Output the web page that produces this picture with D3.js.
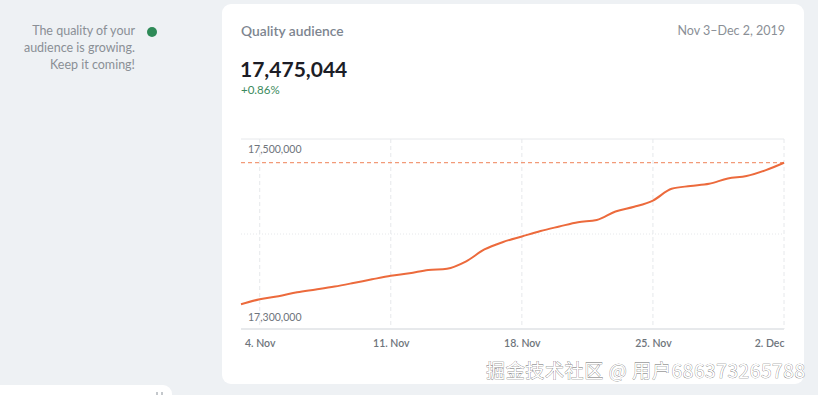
<!DOCTYPE html>
<html>
<head>
<meta charset="utf-8">
<script src="https://cdn.jsdelivr.net/npm/d3@7"></script>
<style>
  body { margin: 0; background: #eef1f4; overflow: hidden; }
  svg { display: block; font-family: Lato, "Open Sans", sans-serif; }
</style>
</head>
<body>
<script>
var width = 818, height = 395;

// data
var startDate = new Date(2019, 10, 3);
var audience = [17326000, 17331300, 17334500, 17338700, 17341600, 17344700, 17348400,
  17352300, 17356000, 17358600, 17362100, 17363500, 17371000, 17383700, 17391600,
  17397400, 17403200, 17407900, 17412400, 17414700, 17423700, 17428600, 17435200,
  17447600, 17450500, 17452800, 17458400, 17461000, 17467000, 17475044];
var yTicks = [17300000, 17400000, 17500000];
var yLabelTicks = [17300000, 17500000];
var xTickDates = [new Date(2019, 10, 4), new Date(2019, 10, 11), new Date(2019, 10, 18),
  new Date(2019, 10, 25), new Date(2019, 11, 2)];
var currentValue = 17475044;
var changeText = "+0.86%";
var periodText = "Nov 3\u2013Dec 2, 2019";
var noteLines = ["The quality of your", "audience is growing.", "Keep it coming!"];

var data = audience.map(function(v, i) {
  return { date: d3.timeDay.offset(startDate, i), value: v };
});

var svg = d3.select("body").append("svg")
  .attr("width", width)
  .attr("height", height);

// cards
svg.append("rect").attr("x", 222).attr("y", 4).attr("width", 582).attr("height", 380)
  .attr("rx", 9).attr("fill", "#fff");
svg.append("rect").attr("x", -10).attr("y", 385).attr("width", 182).attr("height", 30)
  .attr("rx", 9).attr("fill", "#fff");
svg.append("g").selectAll("rect").data([156, 161]).enter().append("rect")
  .attr("x", function(d) { return d; }).attr("y", 392).attr("width", 2).attr("height", 3)
  .attr("fill", "#c4c8cc");

// left note
svg.append("g").selectAll("text").data(noteLines).enter().append("text")
  .attr("x", 135).attr("y", function(d, i) { return 35 + i * 17; })
  .attr("text-anchor", "end").attr("font-size", 12.5).attr("fill", "#8a8f96")
  .text(function(d) { return d; });
svg.append("circle").attr("cx", 152).attr("cy", 32).attr("r", 5).attr("fill", "#2e8a57");

// header
svg.append("text").attr("x", 241).attr("y", 36).attr("font-size", 13.8).attr("font-weight", 600)
  .attr("fill", "#7d8590").text("Quality audience");
svg.append("text").attr("x", 785).attr("y", 35).attr("text-anchor", "end").attr("font-size", 12.5)
  .attr("fill", "#8a8f96").text(periodText);
svg.append("text").attr("x", 240).attr("y", 77).attr("font-size", 21).attr("font-weight", 700)
  .attr("fill", "#1c1d26").text(d3.format(",")(currentValue));
svg.append("text").attr("x", 241).attr("y", 94).attr("font-size", 11.5)
  .attr("fill", "#3b8a5d").text(changeText);

// chart
var x = d3.scaleTime().domain([startDate, data[data.length - 1].date]).range([241, 784]);
var y = d3.scaleLinear().domain([17300000, 17500000]).range([329, 139]);

var grid = svg.append("g");
grid.selectAll("line.h").data(yTicks).enter().append("line")
  .attr("x1", 241).attr("x2", 784)
  .attr("y1", function(d) { return y(d); }).attr("y2", function(d) { return y(d); })
  .attr("stroke", function(d, i) { return i == 0 ? "#cfd3d8" : "#e6e8eb"; })
  .attr("stroke-dasharray", function(d, i) { return i == 1 ? "1,2" : null; });
grid.selectAll("line.v").data(xTickDates).enter().append("line")
  .attr("x1", function(d) { return x(d); }).attr("x2", function(d) { return x(d); })
  .attr("y1", 139).attr("y2", 329)
  .attr("stroke", "#e6e8eb").attr("stroke-dasharray", "4,3");

svg.append("g").selectAll("text").data(yLabelTicks).enter().append("text")
  .attr("x", 248).attr("y", function(d, i) { return i == 0 ? y(d) - 8 : y(d) + 14; })
  .attr("font-size", 10.5).attr("fill", "#6e747b")
  .text(d3.format(","));

var xAxis = svg.append("g").attr("transform", "translate(0,329)")
  .call(d3.axisBottom(x).tickValues(xTickDates).tickSize(0).tickPadding(11)
    .tickFormat(function(d) { return d3.timeFormat("%-d. %b")(d); }));
xAxis.select(".domain").remove();
xAxis.selectAll("text").attr("font-size", 10.5).attr("font-weight", 600).attr("fill", "#6e747b")
  .attr("font-family", "Lato, sans-serif")
  .attr("text-anchor", function(d, i) { return i == xTickDates.length - 1 ? "end" : "middle"; });

// target line
svg.append("line").attr("x1", 241).attr("x2", 784)
  .attr("y1", y(currentValue)).attr("y2", y(currentValue))
  .attr("stroke", "#f29a78").attr("stroke-width", 1.2).attr("stroke-dasharray", "4,3");

var line = d3.line()
  .x(function(d) { return x(d.date); })
  .y(function(d) { return y(d.value); })
  .curve(d3.curveMonotoneX);
svg.append("path").datum(data).attr("d", line)
  .attr("fill", "none").attr("stroke", "#ec6a3c").attr("stroke-width", 2);

// watermark
svg.append("text").attr("x", 486).attr("y", 378).attr("font-size", 19)
  .attr("font-family", "'Noto Sans CJK SC', sans-serif")
  .attr("textLength", 319).attr("lengthAdjust", "spacing")
  .attr("fill", "#fff").attr("stroke", "#6a6a6a").attr("stroke-width", 0.6)
  .attr("paint-order", "stroke")
  .text("\u6398\u91d1\u6280\u672f\u793e\u533a @ \u7528\u6237686373265788");
</script>
</body>
</html>
